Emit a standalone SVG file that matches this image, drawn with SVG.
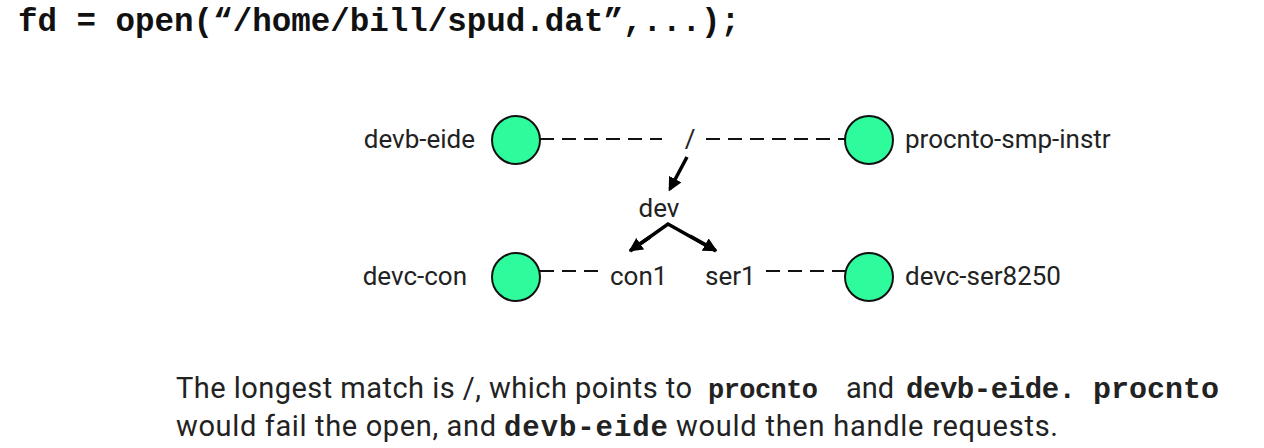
<svg xmlns="http://www.w3.org/2000/svg" width="1264" height="448" viewBox="0 0 1264 448">
<defs>
<marker id="ah" viewBox="0 0 10 10" refX="8" refY="5" markerWidth="4" markerHeight="4" orient="auto" markerUnits="strokeWidth">
<path d="M0,0 L10,5 L0,10 z" fill="#000"/>
</marker>
<style>
.lbl{font-family:Roboto,"Liberation Sans",sans-serif;font-size:26px;fill:#222}
.node{fill:#2efc9c;stroke:#111;stroke-width:2}
.dash{stroke:#111;stroke-width:2;stroke-dasharray:14 8;fill:none}
.arr{stroke:#000;stroke-width:3.5;fill:none;marker-end:url(#ah)}
.code{font-family:"Liberation Mono",monospace;font-weight:bold}
.body{font-family:Roboto,"Liberation Sans",sans-serif;font-size:29px;fill:#222}
</style>
</defs>
<rect width="1264" height="448" fill="#fff"/>
<text class="code" x="18" y="31" font-size="33" fill="#111" textLength="722" lengthAdjust="spacingAndGlyphs">fd = open(“/home/bill/spud.dat”,...);</text>

<g id="connectors">
<line class="dash" x1="540" y1="139" x2="662" y2="139"/>
<line class="dash" x1="706" y1="139" x2="845" y2="139"/>
<line class="dash" x1="540" y1="271" x2="600" y2="271"/>
<line class="dash" x1="766" y1="271" x2="845" y2="271"/>
<line class="arr" x1="687" y1="157" x2="670" y2="189"/>
<polyline points="630,251 668,224 716,251" fill="none" stroke="#000" stroke-width="3.5" stroke-linejoin="miter"/>
<line class="arr" x1="650" y1="237" x2="631" y2="250"/>
<line class="arr" x1="690" y1="236" x2="715" y2="250"/>
</g>

<g id="root"><text class="lbl" x="690" y="148" text-anchor="middle">/</text></g>
<g id="dev"><text class="lbl" x="659" y="217" text-anchor="middle">dev</text></g>
<g id="con1"><text class="lbl" x="610" y="285">con1</text></g>
<g id="ser1"><text class="lbl" x="705" y="285">ser1</text></g>

<g id="devb-eide">
<circle class="node" cx="516" cy="140" r="24"/>
<text class="lbl" x="475" y="148" text-anchor="end">devb-eide</text>
</g>
<g id="procnto-smp-instr">
<circle class="node" cx="869" cy="140" r="24"/>
<text class="lbl" x="905" y="148">procnto-smp-instr</text>
</g>
<g id="devc-con">
<circle class="node" cx="516" cy="277" r="24"/>
<text class="lbl" x="467" y="285" text-anchor="end">devc-con</text>
</g>
<g id="devc-ser8250">
<circle class="node" cx="869" cy="277" r="24"/>
<text class="lbl" x="905" y="285">devc-ser8250</text>
</g>

<text class="body" x="176" y="398"><tspan textLength="516">The longest match is /, which points to</tspan> <tspan class="code" x="708" font-size="27" textLength="110">procnto</tspan> <tspan x="846">and</tspan> <tspan class="code" x="906" font-size="29" textLength="170">devb-eide.</tspan> <tspan class="code" x="1093" font-size="30" textLength="126">procnto</tspan></text>
<text class="body" x="176" y="436"><tspan textLength="320">would fail the open, and</tspan> <tspan class="code" x="504" font-size="29" textLength="164">devb-eide</tspan> <tspan x="676" textLength="382">would then handle requests.</tspan></text>
</svg>
